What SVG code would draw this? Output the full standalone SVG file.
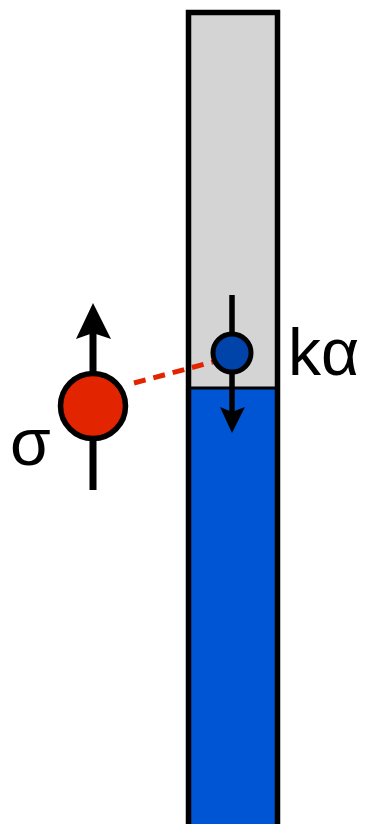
<svg xmlns="http://www.w3.org/2000/svg" width="365" height="824" viewBox="0 0 365 824">
<style>
.lbl{font-family:"Liberation Sans",Arial,sans-serif;font-size:66px;fill:#000}
.stk{stroke:#000;fill:none}
.head{fill:#000}
</style>
<g id="bar">
<rect x="188.5" y="12.5" width="89" height="376" fill="#d4d4d4"/>
<rect x="188.5" y="388" width="89" height="445" fill="#0055d4"/>
<line class="stk" x1="188.5" y1="388" x2="277.5" y2="388" stroke-width="3"/>
<rect x="188.5" y="12.5" width="89" height="820" class="stk" stroke-width="5.5"/>
</g>
<g id="connectors">
<line x1="134" y1="383" x2="220" y2="360" stroke="#e32400" stroke-width="5" stroke-dasharray="12,8"/>
</g>
<g id="small-spin">
<line class="stk" x1="232" y1="295" x2="232" y2="412" stroke-width="5.5"/>
<path class="head" d="M232,433 L220,407 L232,412 L245,407 Z"/>
<circle cx="232" cy="353" r="19" fill="#0044aa" stroke="#000" stroke-width="5"/>
</g>
<g id="big-spin">
<line class="stk" x1="93" y1="490" x2="93" y2="333" stroke-width="7"/>
<path class="head" d="M93,303 L76,339 L93,333 L111,339 Z"/>
<circle cx="93" cy="406" r="32.5" fill="#e32400" stroke="#000" stroke-width="5.5"/>
</g>
<text class="lbl" x="10" y="465">σ</text>
<text class="lbl" x="288" y="375">kα</text>
</svg>
